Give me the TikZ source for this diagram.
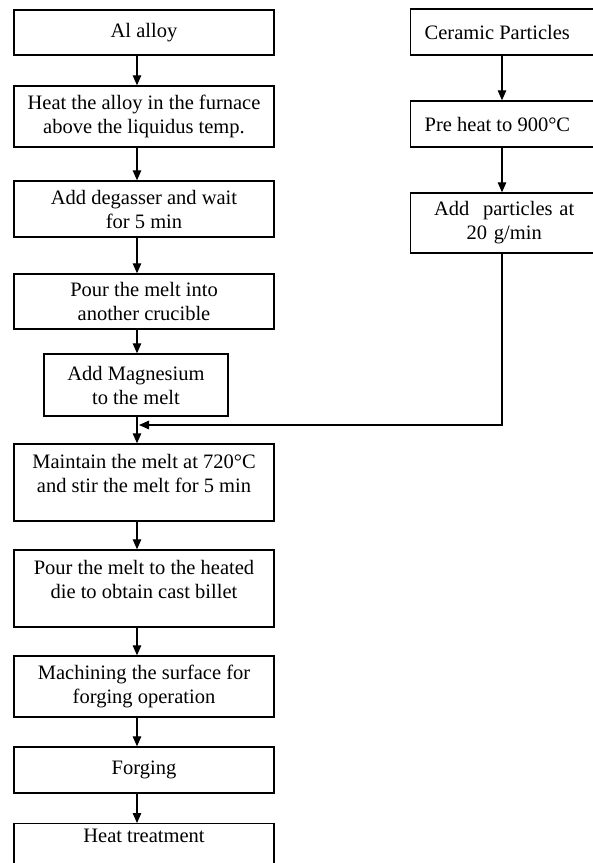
\documentclass[tikz,border=0pt]{standalone}
\usepackage{fontspec}
\setmainfont{Liberation Serif}
\usetikzlibrary{arrows.meta}
\begin{document}
\begin{tikzpicture}[x=1pt, y=-1pt,
    stage/.style={draw, line width=1.4pt, align=center, inner sep=0pt,
      minimum width=260pt, font=\fontsize{20.5}{24}\selectfont},
    side/.style={stage, anchor=west, minimum width=0pt, text width=159pt,
      align=flush left, inner xsep=14pt},
    flow/.style={-{Triangle[length=10pt, width=8.5pt]}, line width=1.3pt}]
  \useasboundingbox (0,0) rectangle (593,863);

  % Alloy route
  \node[stage, minimum height=45pt] (alloy) at (144,32.5) {Al alloy};
  \node[stage, minimum height=61pt] (heat) at (144,116.5) {Heat the alloy in the furnace\\above the liquidus temp.};
  \node[stage, minimum height=56pt] (degas) at (144,209) {Add degasser and wait\\for 5 min};
  \node[stage, minimum height=55pt] (pour) at (144,301.5) {Pour the melt into\\another crucible};
  \node[stage, minimum width=184pt, minimum height=62pt] (magnesium) at (136,385) {Add Magnesium\\to the melt};
  \node[stage, minimum height=77pt, text depth=18pt] (maintain) at (144,482.5) {Maintain the melt at 720°C\\and stir the melt for 5 min};
  \node[stage, minimum height=77pt, text depth=18pt] (die) at (144,588.5) {Pour the melt to the heated\\die to obtain cast billet};
  \node[stage, minimum height=61pt] (machine) at (144,686.5) {Machining the surface for\\forging operation};
  \node[stage, minimum height=46pt] (forge) at (144,770) {Forging};
  \node[stage, anchor=north, text height=19pt, text depth=32pt] (treat) at (144,823) {Heat treatment};

  % Particle route
  \node[side, minimum height=46pt] (ceramic) at (410,32) {Ceramic Particles};
  \node[side, minimum height=46pt] (preheat) at (410,124) {Pre heat to 900°C};
  \node[side, align=center, minimum height=60pt] (addpart) at (410,223) {Add~~particles at\\20 g/min};

  \coordinate (axis) at (137,0);
  \coordinate (raxis) at (502,0);
  \coordinate (join) at (139,425);

  % Arrows
  \foreach \a/\b in {alloy/heat, heat/degas, degas/pour, pour/magnesium, magnesium/maintain,
      maintain/die, die/machine, machine/forge, forge/treat}
    \draw[flow] (\a.south -| axis) -- (\b.north -| axis);
  \foreach \a/\b in {ceramic/preheat, preheat/addpart}
    \draw[flow] (\a.south -| raxis) -- (\b.north -| raxis);
  \draw[flow] (addpart.south -| raxis) |- (join);
\end{tikzpicture}
\end{document}
